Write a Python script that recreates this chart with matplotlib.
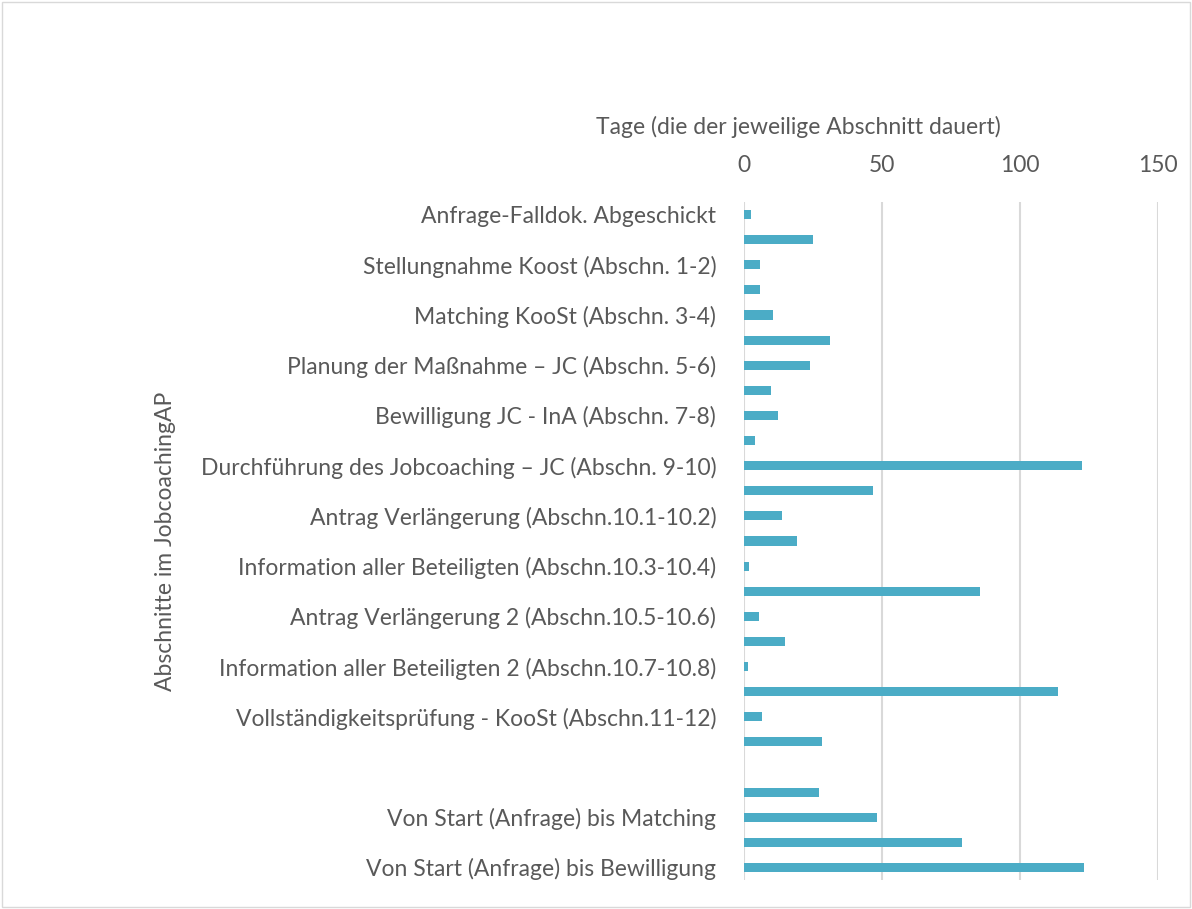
import matplotlib.pyplot as plt
from matplotlib.patches import Rectangle

# Tage pro Abschnitt (von oben nach unten)
values = [2.4, 24.9, 5.9, 5.7, 10.5, 31.0, 23.9, 9.7, 12.4, 4.1,
          122.3, 46.6, 13.8, 19.1, 1.7, 85.4, 5.3, 14.7, 1.6, 113.9,
          6.5, 28.1, 0.0, 27.0, 48.1, 79.1, 123.3]

# nur jede zweite Kategorie ist beschriftet
labels = [
    'Anfrage-Falldok. Abgeschickt',
    'Stellungnahme Koost (Abschn. 1-2)',
    'Matching KooSt (Abschn. 3-4)',
    'Planung der Maßnahme \u2013 JC (Abschn. 5-6)',
    'Bewilligung JC - InA (Abschn. 7-8)',
    'Durchführung des Jobcoaching \u2013 JC (Abschn. 9-10)',
    'Antrag Verlängerung (Abschn.10.1-10.2)',
    'Information aller Beteiligten (Abschn.10.3-10.4)',
    'Antrag Verlängerung 2 (Abschn.10.5-10.6)',
    'Information aller Beteiligten 2 (Abschn.10.7-10.8)',
    'Vollständigkeitsprüfung - KooSt (Abschn.11-12)',
    '',
    'Von Start (Anfrage) bis Matching',
    'Von Start (Anfrage) bis Bewilligung',
]
xticks = [0, 50, 100, 150]

plt.rcParams['font.family'] = ['Lato', 'DejaVu Sans']
text_color = '#595959'
fs = 16.5

fig = plt.figure(figsize=(11.92, 9.09), dpi=100)
ax = fig.add_axes([744 / 1192, 1 - 880 / 909, 414 / 1192, 678 / 909])

pos = list(range(len(values)))
ax.barh(pos, values, height=0.36, color='#4BACC6', zorder=3)

ax.set_ylim(len(values) - 0.5, -0.5)
ax.set_xlim(0, 150)
ax.set_yticks(pos[::2])
ax.set_yticklabels(labels, fontsize=fs, color=text_color)
ax.tick_params(axis='y', length=0, pad=20)

ax.xaxis.tick_top()
ax.xaxis.set_label_position('top')
ax.set_xticks(xticks)
ax.set_xticklabels([str(t) for t in xticks], fontsize=fs, color=text_color)
ax.tick_params(axis='x', length=0, pad=19)
ax.grid(axis='x', color='#D9D9D9', linewidth=1.5, zorder=0)

for s in ax.spines.values():
    s.set_visible(False)

ax.set_xlabel('Tage (die der jeweilige Abschnitt dauert)', fontsize=fs,
              color=text_color)
ax.xaxis.set_label_coords((798 - 744) / 414, 1 + (202 - 134) / 678)
ax.set_ylabel('Abschnitte im JobcoachingAP', fontsize=fs, color=text_color)
ax.yaxis.set_label_coords((176 - 744) / 414, 0.5)

fig.patches.append(Rectangle((0.002, 0.002), 0.996, 0.996, transform=fig.transFigure,
                             fill=False, edgecolor='#D9D9D9', linewidth=1))

fig.savefig('out.png', dpi=100)
